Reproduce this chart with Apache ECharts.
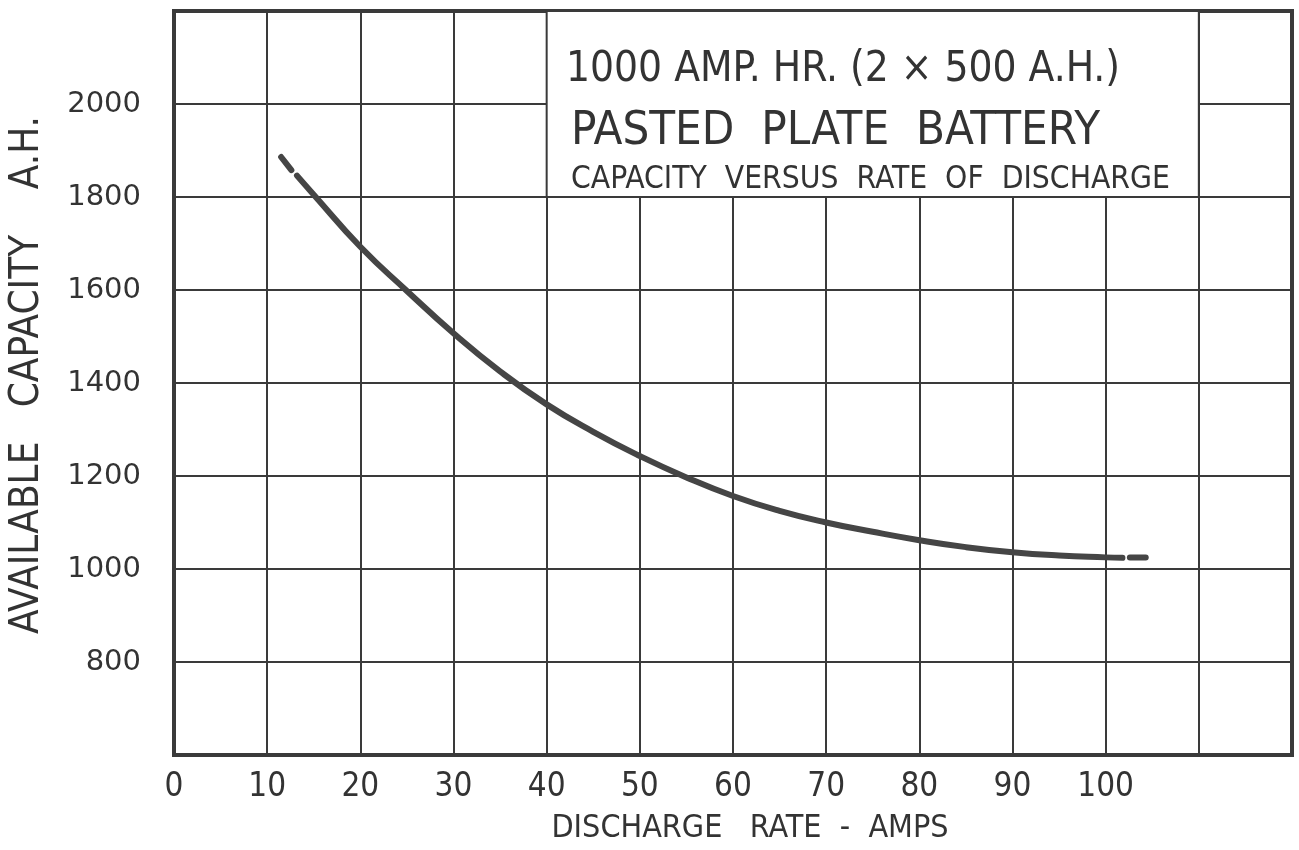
<!DOCTYPE html>
<html>
<head>
<meta charset="utf-8">
<script src="https://cdn.jsdelivr.net/npm/echarts@6/dist/echarts.min.js"></script>
<style>
  html, body { margin: 0; padding: 0; background: #fff; }
  #chart { width: 1299px; height: 850px; }
</style>
</head>
<body>
<div id="chart"></div>
<script>
// capacity curve (amps, amp-hours)
const startDash = [[11.5, 1886], [12.6, 1858]];
const mainCurve = [
  [13.2, 1846], [15, 1805], [20, 1693], [25, 1598], [30, 1507], [35, 1425],
  [40, 1354], [45, 1295], [50, 1243], [55, 1197], [60, 1157], [65, 1125],
  [70, 1100], [75, 1080], [80, 1062], [85, 1047], [90, 1036], [95, 1029],
  [100, 1025], [101.8, 1024]
];
const endDash = [[102.6, 1025], [104.3, 1025]];

const xLabels = [0, 10, 20, 30, 40, 50, 60, 70, 80, 90, 100];
const yLabels = [800, 1000, 1200, 1400, 1600, 1800, 2000];

const titleLines = [
  '1000 AMP. HR. (2 × 500 A.H.)',
  'PASTED  PLATE  BATTERY',
  'CAPACITY  VERSUS  RATE  OF  DISCHARGE'
];

const ink = '#3a3a3a';
const narrow = "'DejaVu Sans Condensed', sans-serif";

const chart = echarts.init(document.getElementById('chart'));

function curve(data) {
  return {
    type: 'line',
    data: data,
    smooth: true,
    symbol: 'none',
    lineStyle: { color: '#454545', width: 6, cap: 'round' },
    z: 5
  };
}

const mainSeries = curve(mainCurve);
// white title panel over the grid
mainSeries.markArea = {
  silent: true,
  itemStyle: { color: '#fff', borderColor: ink, borderWidth: 2, opacity: 1 },
  data: [[{ coord: [40, 2200] }, { coord: [110, 1800] }]]
};

chart.setOption({
  backgroundColor: '#fff',
  animation: false,
  grid: {
    left: 170, right: 7, top: 11, bottom: 80,
    show: true, borderColor: ink, borderWidth: 4, backgroundColor: 'transparent'
  },
  xAxis: {
    type: 'value', min: 0, max: 120, interval: 10,
    axisLine: { show: false },
    axisTick: { show: false },
    splitLine: { show: true, lineStyle: { color: ink, width: 2 } },
    axisLabel: {
      margin: 16,
      color: '#333',
      fontFamily: narrow,
      fontSize: 33,
      formatter: v => xLabels.indexOf(v) >= 0 ? String(v) : ''
    },
    name: 'DISCHARGE   RATE  -  AMPS',
    nameLocation: 'middle',
    nameGap: 58,
    nameTextStyle: { color: '#333', fontFamily: narrow, fontSize: 32, padding: [0, 0, 0, 34] }
  },
  yAxis: {
    type: 'value', min: 600, max: 2200, interval: 200,
    axisLine: { show: false },
    axisTick: { show: false },
    splitLine: { show: true, lineStyle: { color: ink, width: 2 } },
    axisLabel: {
      margin: 33,
      color: '#333',
      fontFamily: "'DejaVu Sans', sans-serif",
      fontSize: 29,
      formatter: v => yLabels.indexOf(v) >= 0 ? String(v) : ''
    },
    name: 'AVAILABLE   CAPACITY    A.H.',
    nameLocation: 'middle',
    nameGap: 126,
    nameTextStyle: { color: '#333', fontFamily: narrow, fontSize: 40, padding: [0, 0, 0, 16] }
  },
  graphic: [
    { type: 'text', left: 566, top: 49, z: 100,
      style: { text: titleLines[0], fill: '#333', font: '42px ' + narrow } },
    { type: 'text', left: 571, top: 108, z: 100,
      style: { text: titleLines[1], fill: '#333', font: '47px ' + narrow } },
    { type: 'text', left: 571, top: 164, z: 100,
      style: { text: titleLines[2], fill: '#333', font: '31.5px ' + narrow } }
  ],
  series: [curve(startDash), mainSeries, curve(endDash)]
});
</script>
</body>
</html>
